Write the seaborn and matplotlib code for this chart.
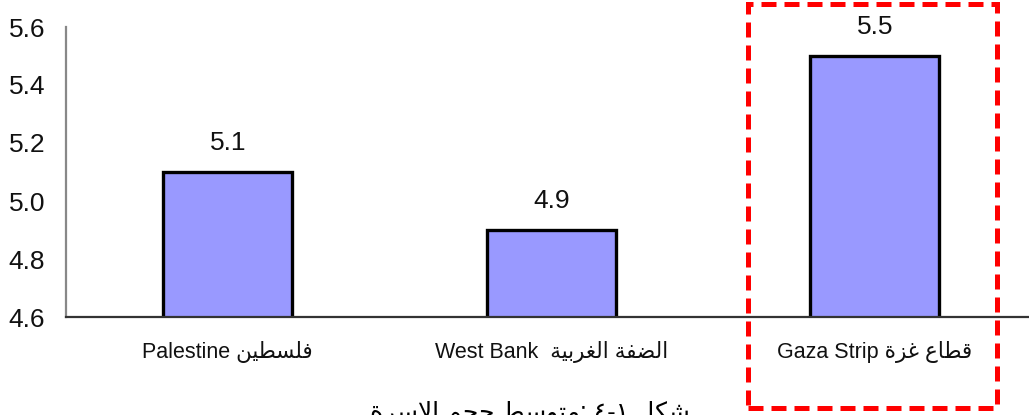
import matplotlib
matplotlib.use("Agg")
import matplotlib.pyplot as plt
import matplotlib.patches as mpatches
import seaborn as sns
import pandas as pd

# ---- data ----
categories_en = ["Palestine", "West Bank", "Gaza Strip"]
categories_ar = ["فلسطين", "الضفة الغربية", "قطاع غزة"]
values = [5.1, 4.9, 5.5]
y_ticks = [4.6, 4.8, 5.0, 5.2, 5.4, 5.6]
caption_ar = "شكل ١-٤ :متوسط حجم الاسرة"

# ---- minimal Arabic shaping (presentation forms + visual order) ----
FORMS = {
    '\u0627': ('\uFE8D', '\uFE8E', None, None),
    '\u0628': ('\uFE8F', '\uFE90', '\uFE91', '\uFE92'),
    '\u0629': ('\uFE93', '\uFE94', None, None),
    '\u062A': ('\uFE95', '\uFE96', '\uFE97', '\uFE98'),
    '\u062C': ('\uFE9D', '\uFE9E', '\uFE9F', '\uFEA0'),
    '\u062D': ('\uFEA1', '\uFEA2', '\uFEA3', '\uFEA4'),
    '\u0631': ('\uFEAD', '\uFEAE', None, None),
    '\u0632': ('\uFEAF', '\uFEB0', None, None),
    '\u0633': ('\uFEB1', '\uFEB2', '\uFEB3', '\uFEB4'),
    '\u0634': ('\uFEB5', '\uFEB6', '\uFEB7', '\uFEB8'),
    '\u0636': ('\uFEBD', '\uFEBE', '\uFEBF', '\uFEC0'),
    '\u0637': ('\uFEC1', '\uFEC2', '\uFEC3', '\uFEC4'),
    '\u0639': ('\uFEC9', '\uFECA', '\uFECB', '\uFECC'),
    '\u063A': ('\uFECD', '\uFECE', '\uFECF', '\uFED0'),
    '\u0641': ('\uFED1', '\uFED2', '\uFED3', '\uFED4'),
    '\u0642': ('\uFED5', '\uFED6', '\uFED7', '\uFED8'),
    '\u0643': ('\uFED9', '\uFEDA', '\uFEDB', '\uFEDC'),
    '\u0644': ('\uFEDD', '\uFEDE', '\uFEDF', '\uFEE0'),
    '\u0645': ('\uFEE1', '\uFEE2', '\uFEE3', '\uFEE4'),
    '\u0646': ('\uFEE5', '\uFEE6', '\uFEE7', '\uFEE8'),
    '\u0647': ('\uFEE9', '\uFEEA', '\uFEEB', '\uFEEC'),
    '\u0648': ('\uFEED', '\uFEEE', None, None),
    '\u064A': ('\uFEF1', '\uFEF2', '\uFEF3', '\uFEF4'),
}


def shape(text):
    chars = list(text)
    n = len(chars)
    res = []
    i = 0

    def joins_next(c):
        return c in FORMS and FORMS[c][2] is not None

    while i < n:
        c = chars[i]
        if c not in FORMS:
            res.append(c)
            i += 1
            continue
        prev = chars[i - 1] if i > 0 else None
        prev_conn = prev is not None and joins_next(prev)
        if c == '\u0644' and i + 1 < n and chars[i + 1] == '\u0627':
            res.append('\uFEFC' if prev_conn else '\uFEFB')
            i += 2
            continue
        nxt = chars[i + 1] if i + 1 < n else None
        next_conn = nxt is not None and nxt in FORMS
        iso, fin, ini, med = FORMS[c]
        if prev_conn and ini is not None and next_conn:
            res.append(med)
        elif prev_conn:
            res.append(fin)
        elif ini is not None and next_conn:
            res.append(ini)
        else:
            res.append(iso)
        i += 1
    return ''.join(reversed(res))


sns.set_style("white")
plt.rcParams['font.family'] = ['Liberation Sans', 'DejaVu Sans']

seps = [" ", "  ", " "]
labels = [f"{en}{sep}{shape(ar)}" for en, ar, sep in zip(categories_en, categories_ar, seps)]
df = pd.DataFrame({"label": labels, "value": values})

W, H = 1029, 415
fig = plt.figure(figsize=(W / 100, H / 100), dpi=100)
ax = fig.add_axes([66 / W, 1 - 317 / H, 3 * 323.5 / W, 290 / H])

sns.barplot(data=df, x="label", y="value", color="#9999FF", saturation=1,
            edgecolor="black", linewidth=2.4, width=0.4, ax=ax)
ax.set_ylim(4.6, 5.6)
ax.set_yticks(y_ticks)
ax.set_yticklabels([f"{t:.1f}" for t in y_ticks], fontsize=19, color="#111111")
ax.set_xlabel("")
ax.set_ylabel("")
for lbl in ax.get_xticklabels():
    lbl.set_fontsize(15.5)
    lbl.set_color("#111111")
ax.tick_params(axis="x", length=0, pad=17)
ax.tick_params(axis="y", length=6, width=1.5, color="#808080", pad=9)

for s in ["top", "right"]:
    ax.spines[s].set_visible(False)
ax.spines["left"].set_color("#888888")
ax.spines["left"].set_linewidth(1.6)
ax.spines["bottom"].set_color("#333333")
ax.spines["bottom"].set_linewidth(1.6)

ax.bar_label(ax.containers[0], fmt="%.1f", padding=12, fontsize=19, color="#111111")

# red dashed highlight box
box = mpatches.Rectangle((748 / W, 1 - 408 / H), (997 - 748) / W, (408 - 4) / H,
                         transform=fig.transFigure, fill=False, edgecolor="#FF0000",
                         linewidth=3.6, linestyle=(0, (3.0, 1.6)), clip_on=False)
fig.patches.append(box)

# caption (cut off at the bottom of the image, as in the reference)
fig.text(530 / W, 1 - 420 / H, shape(caption_ar), ha="center", va="baseline",
         fontsize=18, color="black")

fig.savefig("out.png", dpi=100)
